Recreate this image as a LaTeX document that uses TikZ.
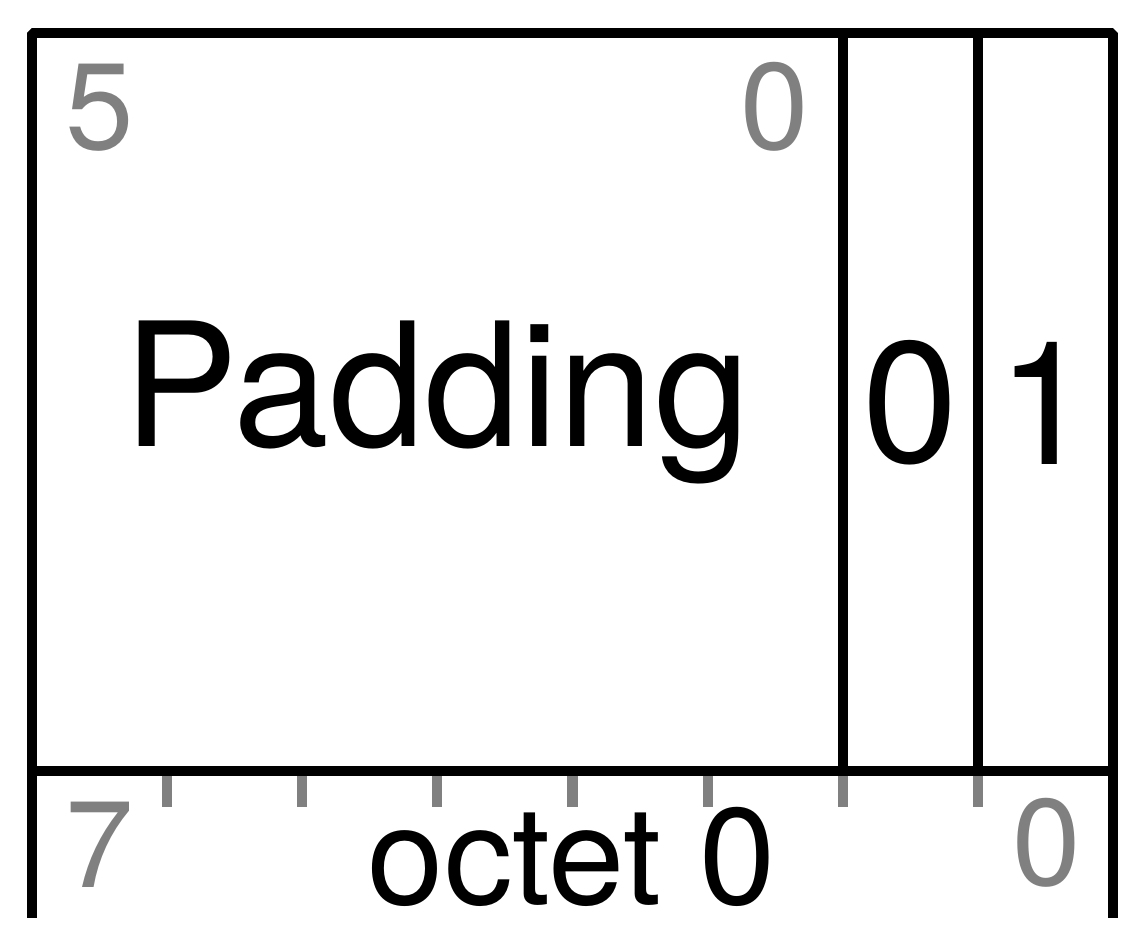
\documentclass[tikz,border=0pt]{standalone}
\usepackage{fontspec}
\setmainfont{TeX Gyre Heros}
\usetikzlibrary{positioning}

\begin{document}
\begin{tikzpicture}[x=0.01cm,y=-0.01cm,
  frame/.style={line width=0.1cm, line join=bevel},
  tick/.style={gray, line width=0.1cm},
  bitnum/.style={gray, inner sep=0pt, anchor=base, font=\fontsize{35}{42}\selectfont},
  field/.style={inner sep=0pt, anchor=base, font=\fontsize{49}{60}\selectfont}]
  \useasboundingbox (0,0) rectangle (1144,934);

  \coordinate (BL) at (32,918);
  \coordinate (TL) at (32,33);
  \coordinate (TR) at (1113,33);
  \coordinate (BR) at (1113,918);
  \coordinate (ML) at (32,771);
  \coordinate (MR) at (1113,771);

  % bit ticks under the octet
  \foreach \k in {1,...,7}
    \draw[tick] (32+135.125*\k,771) -- ++(0,36);

  \draw[frame] (BL) -- (TL) -- (TR) -- (BR);
  \draw[frame] (ML) -- (MR);
  \draw[frame] (843,33) -- (843,771);
  \draw[frame] (978,33) -- (978,771);

  \node[bitnum] (HI) at (100,150) {5};
  \node[bitnum] (LO) at (775,150) {0};
  \node[field] (PAD) at (437,447) {Padding};
  \node[field] (BIT0) at (910,463) {0};
  \node[field] (BIT1) at (1045,465) {1};

  \node[bitnum] (MSB) at (100,888) {7};
  \node[inner sep=0pt, anchor=base, font=\fontsize{39}{48}\selectfont] (OCT) at (572,905) {octet 0};
  \node[bitnum] (LSB) at (1047,886) {0};
\end{tikzpicture}
\end{document}
